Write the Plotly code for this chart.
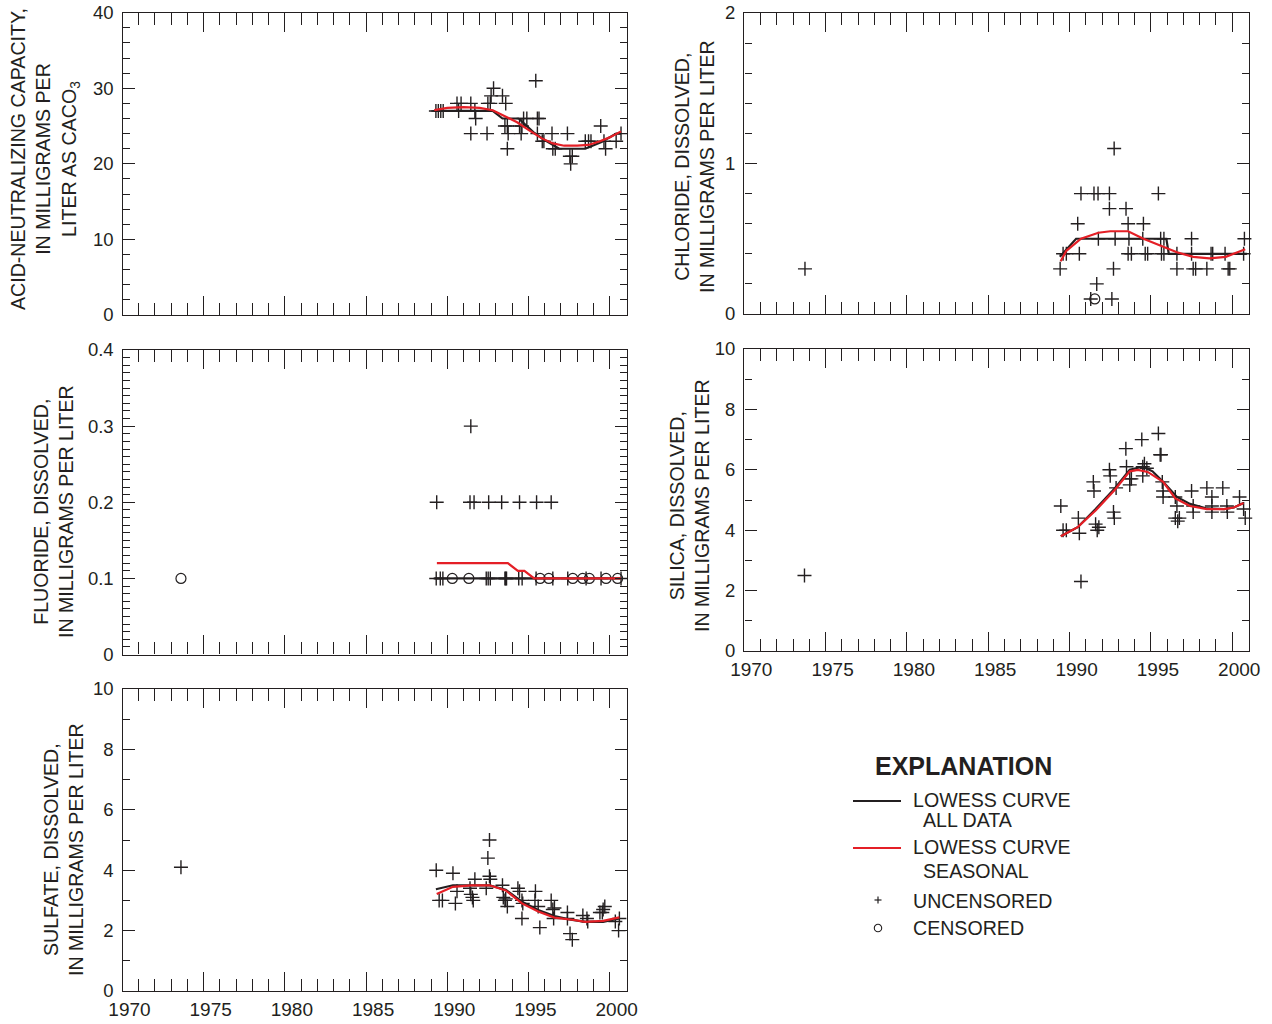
import plotly.graph_objects as go

W, H = 1272, 1024
FONT = "Liberation Sans, Arial, Helvetica, sans-serif"
INK = "#231f20"
RED = "#e41f26"

# ---------------- data ----------------
year_ticks = [1970, 1975, 1980, 1985, 1990, 1995, 2000]
year_labels = ["1970", "1975", "1980", "1985", "1990", "1995", "2000"]

# Panel 1: acid-neutralizing capacity
anc_years = [1989.30, 1989.45, 1989.60, 1989.75, 1990.60, 1990.85, 1990.70,
             1991.45, 1991.45, 1991.70, 1991.75, 1992.45, 1992.50, 1992.65,
             1992.70, 1992.85, 1993.40, 1993.60, 1993.55, 1993.70, 1993.75,
             1993.70, 1994.45, 1994.55, 1994.70, 1994.90, 1994.60, 1995.45,
             1995.55, 1995.65, 1995.55, 1995.85, 1995.95, 1996.45, 1996.50,
             1996.65, 1997.40, 1997.55, 1997.70, 1997.60, 1998.50, 1998.70,
             1998.85, 1999.45, 1999.65, 1999.75, 2000.40, 2000.70]
anc_vals = [27, 27, 27, 27, 28, 28, 27,
            28, 24, 27, 26, 24, 28, 28,
            29, 30, 29, 28, 25, 25, 24,
            22, 25, 24, 26, 26, 25, 31,
            26, 26, 24, 23, 23, 24, 22,
            22, 24, 21, 21, 20, 23, 23,
            23, 25, 23, 22, 23, 24]
anc_all_years = [1989.2, 1992.8, 1993.4, 1994.4, 1995.3, 1996.1, 1996.9, 1998.5, 1999.5, 2000.4, 2000.7]
anc_all_vals = [27.0, 27.0, 26.0, 26.0, 24.2, 23.0, 22.0, 22.0, 22.9, 24.0, 24.0]
anc_seas_years = [1989.2, 1990.0, 1991.0, 1992.0, 1992.8, 1993.5, 1994.3, 1995.0, 1995.8,
                  1996.5, 1997.2, 1998.0, 1998.7, 1999.4, 2000.0, 2000.7]
anc_seas_vals = [27.1, 27.4, 27.5, 27.4, 27.1, 26.4, 25.5, 24.5, 23.4,
                 22.7, 22.4, 22.4, 22.5, 23.0, 23.5, 24.3]

# Panel 2: chloride
cl_years = [1973.73, 1989.42, 1989.60, 1989.80, 1990.50, 1990.60, 1990.70,
            1991.50, 1991.75, 1991.77, 1991.67, 1991.30, 1992.45, 1992.45,
            1992.74, 1992.70, 1992.60, 1992.80, 1993.47, 1993.60, 1993.65,
            1993.60, 1993.80, 1994.54, 1994.50, 1994.65, 1994.80, 1995.46,
            1995.60, 1995.80, 1995.65, 1995.80, 1996.60, 1996.60, 1997.50,
            1997.50, 1997.60, 1997.75, 1998.44, 1998.70, 1998.80, 1999.56,
            1999.75, 1999.85, 2000.75, 2000.70]
cl_vals = [0.3, 0.3, 0.4, 0.4, 0.6, 0.4, 0.8,
           0.8, 0.8, 0.5, 0.2, 0.1, 0.8, 0.7,
           1.1, 0.3, 0.1, 0.5, 0.7, 0.6, 0.5,
           0.4, 0.4, 0.6, 0.5, 0.4, 0.4, 0.8,
           0.5, 0.5, 0.4, 0.4, 0.4, 0.3, 0.5,
           0.4, 0.3, 0.3, 0.3, 0.4, 0.4, 0.4,
           0.3, 0.3, 0.5, 0.4]
cl_cens_years = [1991.55]
cl_cens_vals = [0.1]
cl_all_years = [1989.4, 1990.4, 1995.95, 1996.1, 2000.9]
cl_all_vals = [0.38, 0.5, 0.5, 0.4, 0.4]
cl_seas_years = [1989.45, 1989.8, 1990.7, 1991.77, 1992.5, 1993.6, 1994.54, 1995.8,
                 1996.6, 1997.6, 1998.6, 1999.6, 2000.8]
cl_seas_vals = [0.35, 0.42, 0.50, 0.54, 0.55, 0.55, 0.50, 0.445,
                0.41, 0.38, 0.37, 0.38, 0.43]

# Panel 3: fluoride
fl_years = [1989.35, 1991.45, 1991.40, 1991.65, 1992.55, 1993.35, 1994.45, 1995.50, 1996.40,
            1989.32, 1989.57, 1989.73, 1992.40, 1992.52, 1992.65, 1993.55, 1993.60,
            1993.65, 1994.40, 1994.61, 1995.47, 1996.50, 1997.42, 1998.55, 1999.47, 2000.70]
fl_vals = [0.2, 0.3, 0.2, 0.2, 0.2, 0.2, 0.2, 0.2, 0.2,
           0.1, 0.1, 0.1, 0.1, 0.1, 0.1, 0.1, 0.1,
           0.1, 0.1, 0.1, 0.1, 0.1, 0.1, 0.1, 0.1, 0.1]
fl_cens_years = [1973.6, 1990.31, 1991.33, 1995.72, 1996.25, 1997.73, 1998.34, 1998.75,
                 1999.78, 2000.49]
fl_cens_vals = [0.1, 0.1, 0.1, 0.1, 0.1, 0.1, 0.1, 0.1, 0.1, 0.1]
fl_all_years = [1989.2, 2000.7]
fl_all_vals = [0.1, 0.1]
fl_seas_years = [1989.36, 1993.73, 1994.35, 1994.75, 1995.35, 2000.7]
fl_seas_vals = [0.12, 0.12, 0.11, 0.11, 0.10, 0.10]

# Panel 4: silica
si_years = [1973.7, 1989.46, 1989.60, 1989.80, 1990.54, 1990.60, 1990.70,
            1991.46, 1991.50, 1991.60, 1991.70, 1991.80, 1992.45, 1992.50,
            1992.70, 1992.75, 1992.86, 1993.46, 1993.50, 1993.70, 1993.80,
            1993.70, 1994.44, 1994.50, 1994.60, 1994.75, 1994.50, 1995.46,
            1995.57, 1995.62, 1995.70, 1995.75, 1995.75, 1996.50, 1996.60,
            1996.50, 1996.65, 1996.75, 1997.50, 1997.60, 1997.60, 1998.44,
            1998.75, 1998.75, 1998.75, 1999.42, 1999.67, 1999.70, 2000.45,
            2000.70, 2000.80]
si_vals = [2.5, 4.8, 4.0, 4.0, 4.4, 3.9, 2.3,
           5.6, 5.3, 4.2, 4.0, 4.1, 6.0, 5.8,
           4.6, 4.4, 5.4, 6.7, 6.1, 5.7, 5.7,
           5.5, 7.0, 6.1, 6.2, 6.05, 5.8, 7.2,
           6.5, 6.5, 5.6, 5.3, 5.1, 5.1, 4.8,
           4.4, 4.3, 4.4, 5.3, 4.8, 4.6, 5.4,
           5.1, 4.8, 4.6, 5.4, 4.8, 4.6, 5.1,
           4.7, 4.4]
si_all_years = [1989.46, 1990.5, 1991.6, 1992.8, 1993.7, 1994.5, 1995.1, 1995.75,
                1996.6, 1997.4, 1998.44, 1999.5, 2000.1, 2000.7]
si_all_vals = [3.8, 4.1, 4.7, 5.4, 6.0, 6.1, 5.95, 5.6,
               5.1, 4.87, 4.72, 4.7, 4.75, 4.9]
si_seas_years = [1989.46, 1990.5, 1991.6, 1992.8, 1993.7, 1994.2, 1994.8, 1995.75,
                 1996.5, 1997.4, 1998.44, 1999.5, 2000.1, 2000.7]
si_seas_vals = [3.8, 4.1, 4.65, 5.35, 5.95, 6.0, 5.93, 5.6,
                5.05, 4.8, 4.7, 4.7, 4.75, 4.9]

# Panel 5: sulfate
so_years = [1973.6, 1989.32, 1989.50, 1989.70, 1990.35, 1990.50, 1990.60,
            1991.40, 1991.45, 1991.55, 1991.60, 1991.70, 1992.40, 1992.50,
            1992.60, 1992.60, 1992.65, 1993.40, 1993.45, 1993.55, 1993.60,
            1993.70, 1994.35, 1994.45, 1994.60, 1994.60, 1994.65, 1995.40,
            1995.43, 1995.60, 1995.70, 1996.40, 1996.50, 1996.60, 1996.55,
            1997.40, 1997.40, 1997.56, 1997.70, 1998.35, 1998.60, 1998.65,
            1999.40, 1999.55, 1999.60, 1999.70, 2000.35, 2000.60, 2000.55]
so_vals = [4.1, 4.0, 3.0, 3.0, 3.9, 2.9, 3.3,
           3.4, 3.2, 3.1, 3.0, 3.7, 3.4, 4.4,
           5.0, 3.8, 3.7, 3.5, 3.1, 3.0, 3.05,
           2.8, 3.4, 3.3, 2.4, 3.0, 2.9, 3.0,
           3.3, 2.8, 2.1, 3.0, 2.7, 2.75, 2.4,
           2.6, 2.4, 1.9, 1.7, 2.5, 2.4, 2.3,
           2.6, 2.6, 2.7, 2.8, 2.3, 2.4, 2.0]
so_all_years = [1989.3, 1990.35, 1992.6, 1993.6, 1994.6, 1995.6, 1996.6, 1997.5,
                1998.5, 1999.6, 2000.6]
so_all_vals = [3.37, 3.5, 3.5, 3.35, 2.96, 2.68, 2.48, 2.37, 2.29, 2.29, 2.4]
so_seas_years = [1989.35, 1990.35, 1991.5, 1992.6, 1993.6, 1994.6, 1995.6, 1996.6,
                 1997.8, 1998.5, 1999.6, 2000.6]
so_seas_vals = [3.21, 3.45, 3.5, 3.5, 3.33, 2.9, 2.63, 2.43, 2.35, 2.29, 2.32, 2.44]

# ---------------- layout helpers ----------------
def fx(px):
    return px / W


def fy(py):
    return 1 - py / H


XL, XR = 122.5, 626.7
XL2, XR2 = 744.3, 1249.3
XMAX = 2001.05
TFS = 19.6   # axis-title font size

panels = [
    dict(box=(XL, XR, 12.7, 315.0), yr=40, yt=[0, 10, 20, 30, 40], ym=2,
         up=(anc_years, anc_vals), cen=None, la=(anc_all_years, anc_all_vals),
         ls=(anc_seas_years, anc_seas_vals), xlab=False,
         title="ACID-NEUTRALIZING CAPACITY,<br>IN MILLIGRAMS PER<br>LITER AS CACO<sub>3</sub>",
         tpos=(45, 159)),
    dict(box=(XL2, XR2, 13.0, 314.0), yr=2, yt=[0, 1, 2], ym=0.2,
         up=(cl_years, cl_vals), cen=(cl_cens_years, cl_cens_vals),
         la=(cl_all_years, cl_all_vals), ls=(cl_seas_years, cl_seas_vals), xlab=False,
         title="CHLORIDE, DISSOLVED,<br>IN MILLIGRAMS PER LITER", tpos=(694, 167)),
    dict(box=(XL, XR, 350.0, 654.6), yr=0.4, yt=[0, 0.1, 0.2, 0.3, 0.4], ym=0.01,
         up=(fl_years, fl_vals), cen=(fl_cens_years, fl_cens_vals),
         la=(fl_all_years, fl_all_vals), ls=(fl_seas_years, fl_seas_vals), xlab=False,
         title="FLUORIDE, DISSOLVED,<br>IN MILLIGRAMS PER LITER", tpos=(53, 512)),
    dict(box=(XL2, XR2, 349.0, 651.0), yr=10, yt=[0, 2, 4, 6, 8, 10], ym=1,
         up=(si_years, si_vals), cen=None, la=(si_all_years, si_all_vals),
         ls=(si_seas_years, si_seas_vals), xlab=True,
         title="SILICA, DISSOLVED,<br>IN MILLIGRAMS PER LITER", tpos=(689, 506)),
    dict(box=(XL, XR, 689.0, 991.0), yr=10, yt=[0, 2, 4, 6, 8, 10], ym=1,
         up=(so_years, so_vals), cen=None, la=(so_all_years, so_all_vals),
         ls=(so_seas_years, so_seas_vals), xlab=True,
         title="SULFATE, DISSOLVED,<br>IN MILLIGRAMS PER LITER", tpos=(63, 850)),
]

fig = go.Figure()
annotations = []
shapes = []

for i, p in enumerate(panels, start=1):
    sx = "" if i == 1 else str(i)
    xa, ya = "x" + sx, "y" + sx
    l, r, t, b = p["box"]
    ylabels = [("%g" % v) for v in p["yt"]]
    fig.update_layout(**{
        "xaxis" + sx: dict(
            domain=[fx(l), fx(r)], range=[1970, XMAX], anchor=ya,
            automargin=False,
            tickmode="array", tickvals=year_ticks, ticktext=year_labels,
            ticks="inside", ticklen=19, tickwidth=1.3, tickcolor=INK,
            minor=dict(dtick=1, tick0=1970, ticks="inside", ticklen=12,
                       tickwidth=1.3, tickcolor=INK, showgrid=False),
            showline=True, linewidth=1.4, linecolor=INK, mirror="allticks",
            showgrid=False, zeroline=False, showticklabels=p["xlab"],
            tickfont=dict(family=FONT, size=19, color=INK),
            ticklabelshift=7, ticklabelstandoff=1,
        ),
        "yaxis" + sx: dict(
            domain=[fy(b), fy(t)], range=[0, p["yr"]], anchor=xa,
            automargin=False,
            tickmode="array", tickvals=p["yt"], ticktext=ylabels,
            ticks="inside", ticklen=12, tickwidth=1.3, tickcolor=INK,
            minor=dict(dtick=p["ym"], tick0=0, ticks="inside", ticklen=7,
                       tickwidth=1.3, tickcolor=INK, showgrid=False),
            showline=True, linewidth=1.4, linecolor=INK, mirror="allticks",
            showgrid=False, zeroline=False,
            tickfont=dict(family=FONT, size=18.5, color=INK),
            ticklabelstandoff=4,
        ),
    })
    ux, uy = p["up"]
    fig.add_trace(go.Scatter(x=ux, y=uy, mode="markers", xaxis=xa, yaxis=ya,
                             marker=dict(symbol="cross-thin", size=10, color=INK,
                                         line=dict(width=1.4, color=INK)),
                             showlegend=False, cliponaxis=False))
    if p["cen"] is not None:
        cx, cy = p["cen"]
        fig.add_trace(go.Scatter(x=cx, y=cy, mode="markers", xaxis=xa, yaxis=ya,
                                 marker=dict(symbol="circle-open", size=10, color=INK,
                                             line=dict(width=1.2, color=INK)),
                                 showlegend=False, cliponaxis=False))
    lx, lyv = p["la"]
    fig.add_trace(go.Scatter(x=lx, y=lyv, mode="lines", xaxis=xa, yaxis=ya,
                             line=dict(color=INK, width=2.2), showlegend=False))
    rx, ryv = p["ls"]
    fig.add_trace(go.Scatter(x=rx, y=ryv, mode="lines", xaxis=xa, yaxis=ya,
                             line=dict(color=RED, width=2.2), showlegend=False))
    tx, ty = p["tpos"]
    annotations.append(dict(
        x=fx(tx), y=fy(ty), xref="paper", yref="paper", text=p["title"],
        textangle=-90, showarrow=False, xanchor="center", yanchor="middle",
        font=dict(family=FONT, size=TFS, color=INK), align="center"))

# ---------------- explanation (legend) ----------------
annotations.append(dict(x=fx(963), y=fy(766), xref="paper", yref="paper",
                        text="<b>EXPLANATION</b>", showarrow=False,
                        xanchor="center", yanchor="middle",
                        font=dict(family=FONT, size=25, color=INK)))
leg_text = [
    ("LOWESS CURVE", 911, 800), ("ALL DATA", 921, 820),
    ("LOWESS CURVE", 911, 847), ("SEASONAL", 921, 871),
    ("UNCENSORED", 911, 901), ("CENSORED", 911, 928),
]
for txt, lx0, ly0 in leg_text:
    annotations.append(dict(x=fx(lx0), y=fy(ly0), xref="paper", yref="paper",
                            text=txt, showarrow=False, xanchor="left",
                            yanchor="middle",
                            font=dict(family=FONT, size=19.6, color=INK)))
shapes.append(dict(type="line", xref="paper", yref="paper",
                   x0=fx(853), x1=fx(901), y0=fy(801), y1=fy(801),
                   line=dict(color=INK, width=2)))
shapes.append(dict(type="line", xref="paper", yref="paper",
                   x0=fx(853), x1=fx(901), y0=fy(848), y1=fy(848),
                   line=dict(color=RED, width=2)))
shapes.append(dict(type="line", xref="paper", yref="paper",
                   x0=fx(874.5), x1=fx(881.5), y0=fy(900), y1=fy(900),
                   line=dict(color=INK, width=1.2)))
shapes.append(dict(type="line", xref="paper", yref="paper",
                   x0=fx(878), x1=fx(878), y0=fy(896.5), y1=fy(903.5),
                   line=dict(color=INK, width=1.2)))
shapes.append(dict(type="circle", xref="paper", yref="paper",
                   x0=fx(874.3), x1=fx(881.7), y0=fy(924.3), y1=fy(931.7),
                   line=dict(color=INK, width=1.1)))

fig.update_layout(
    template="none",
    width=W, height=H, margin=dict(l=0, r=0, t=0, b=0, pad=0, autoexpand=False),
    paper_bgcolor="white", plot_bgcolor="white",
    showlegend=False, annotations=annotations, shapes=shapes,
    font=dict(family=FONT, color=INK),
)

fig.write_html(
    "out.html",
    config={"displayModeBar": False},
    post_script="document.body.style.margin='0px';document.body.style.overflow='hidden';",
)
